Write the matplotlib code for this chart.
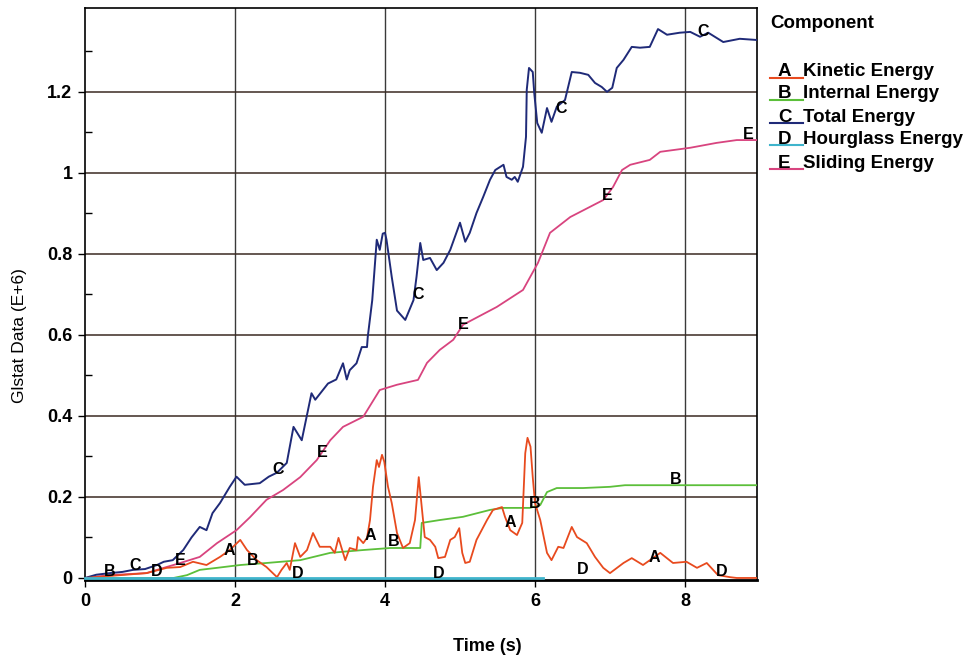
import matplotlib
matplotlib.use("Agg")
import matplotlib.pyplot as plt
from matplotlib.ticker import FixedLocator

plt.rcParams['font.family'] = ['Liberation Sans', 'DejaVu Sans']

# ---- data (time in s, values in E+6) ----
A_t = [0, 0.33, 0.82, 1.09, 1.27, 1.44, 1.62, 1.8, 1.93, 2.07, 2.16, 2.29, 2.42, 2.56, 2.62, 2.69, 2.73, 2.8,
       2.87, 2.96, 3.04, 3.13, 3.27, 3.33, 3.38, 3.47, 3.53, 3.62, 3.64, 3.71, 3.76, 3.8, 3.84, 3.89, 3.92, 3.96,
       3.99, 4.04, 4.09, 4.16, 4.24, 4.33, 4.4, 4.45, 4.49, 4.53, 4.6, 4.67, 4.71, 4.8, 4.87, 4.93, 4.99, 5.03,
       5.07, 5.13, 5.22, 5.36, 5.44, 5.56, 5.6, 5.67, 5.76, 5.83, 5.87, 5.9, 5.94, 5.97, 6.0, 6.07, 6.16, 6.22,
       6.31, 6.38, 6.49, 6.56, 6.69, 6.8, 6.91, 7.0, 7.18, 7.29, 7.44, 7.67, 7.84, 8.02, 8.16, 8.29, 8.44, 8.6,
       8.69, 8.96]
A_v = [0, 0.005, 0.012, 0.025, 0.027, 0.04, 0.032, 0.052, 0.069, 0.094, 0.069, 0.044, 0.027, 0.002, 0.02, 0.037,
       0.02, 0.086, 0.052, 0.069, 0.111, 0.077, 0.077, 0.062, 0.099, 0.044, 0.074, 0.069, 0.101, 0.086, 0.099,
       0.143, 0.225, 0.291, 0.274, 0.304, 0.287, 0.225, 0.185, 0.111, 0.074, 0.086, 0.143, 0.249, 0.175, 0.101,
       0.094, 0.077, 0.049, 0.052, 0.094, 0.101, 0.123, 0.062, 0.037, 0.04, 0.094, 0.143, 0.168, 0.175, 0.151,
       0.118, 0.106, 0.136, 0.308, 0.346, 0.324, 0.249, 0.185, 0.143, 0.062, 0.044, 0.077, 0.074, 0.126, 0.101,
       0.086, 0.052, 0.025, 0.012, 0.037, 0.049, 0.032, 0.062, 0.037, 0.04, 0.025, 0.037, 0.007, 0.002, 0.0, 0.0]

B_t = [0, 1.18, 1.36, 1.53, 1.76, 2.07, 2.42, 2.87, 3.27, 3.71, 4.07, 4.47, 4.49, 4.73, 5.04, 5.4, 5.58, 5.93,
       6.07, 6.16, 6.29, 6.64, 7.0, 7.2, 8.96]
B_v = [0, 0, 0.007, 0.02, 0.025, 0.032, 0.037, 0.044, 0.062, 0.069, 0.074, 0.074, 0.136, 0.143, 0.151, 0.168,
       0.173, 0.173, 0.18, 0.212, 0.222, 0.222, 0.225, 0.229, 0.229]

C_t = [0, 0.15, 0.33, 0.5, 0.64, 0.8, 0.96, 1.05, 1.17, 1.31, 1.42, 1.53, 1.62, 1.7, 1.8, 1.93, 2.02, 2.13, 2.33,
       2.45, 2.56, 2.69, 2.78, 2.89, 3.02, 3.07, 3.24, 3.35, 3.44, 3.49, 3.53, 3.62, 3.69, 3.76, 3.77, 3.83, 3.89,
       3.93, 3.97, 4.0, 4.02, 4.09, 4.16, 4.27, 4.38, 4.42, 4.47, 4.51, 4.6, 4.69, 4.78, 4.87, 5.0, 5.07, 5.13,
       5.22, 5.31, 5.4, 5.47, 5.58, 5.62, 5.69, 5.73, 5.77, 5.84, 5.88, 5.89, 5.92, 5.97, 5.99, 6.03, 6.09, 6.16,
       6.22, 6.29, 6.4, 6.49, 6.6, 6.71, 6.8, 6.89, 6.96, 7.03, 7.09, 7.18, 7.29, 7.4, 7.53, 7.64, 7.76, 7.93,
       8.07, 8.2, 8.31, 8.51, 8.73, 8.96]
C_v = [0, 0.008, 0.012, 0.015, 0.02, 0.022, 0.032, 0.04, 0.044, 0.069, 0.1, 0.126, 0.118, 0.16, 0.185, 0.225,
       0.25, 0.23, 0.234, 0.25, 0.26, 0.284, 0.373, 0.34, 0.456, 0.44, 0.48, 0.49, 0.53, 0.49, 0.513, 0.53, 0.57,
       0.57, 0.595, 0.686, 0.835, 0.81, 0.85, 0.852, 0.835, 0.743, 0.66, 0.637, 0.686, 0.743, 0.827, 0.785, 0.79,
       0.76, 0.778, 0.81, 0.877, 0.83, 0.852, 0.901, 0.941, 0.983, 1.007, 1.02, 0.99, 0.983, 0.99, 0.978, 1.015,
       1.089, 1.205, 1.259, 1.249, 1.197, 1.123, 1.099, 1.16, 1.126, 1.163, 1.18, 1.249, 1.247, 1.242, 1.222,
       1.212, 1.2, 1.21, 1.259, 1.279, 1.311, 1.309, 1.311, 1.355, 1.341, 1.346, 1.348, 1.336, 1.346, 1.323,
       1.331, 1.328]

D_t = [0, 2.0, 4.0, 6.1]
D_v = [0, 0, 0, 0]

E_t = [0, 0.33, 0.82, 1.05, 1.27, 1.53, 1.76, 2.02, 2.2, 2.42, 2.64, 2.87, 3.09, 3.27, 3.44, 3.71, 3.93, 4.16,
       4.44, 4.56, 4.73, 4.91, 5.04, 5.49, 5.84, 6.04, 6.2, 6.47, 6.91, 7.04, 7.16, 7.27, 7.53, 7.67, 8.07, 8.42,
       8.69, 8.96]
E_v = [0, 0.007, 0.012, 0.025, 0.037, 0.052, 0.086, 0.118, 0.15, 0.193, 0.217, 0.249, 0.291, 0.34, 0.373, 0.398,
       0.464, 0.477, 0.489, 0.531, 0.563, 0.588, 0.625, 0.669, 0.711, 0.778, 0.852, 0.891, 0.933, 0.965, 1.007,
       1.02, 1.032, 1.052, 1.062, 1.074, 1.081, 1.081]

letters = ['A', 'B', 'C', 'D', 'E']
names = ['Kinetic Energy', 'Internal Energy', 'Total Energy', 'Hourglass Energy', 'Sliding Energy']
colors = ['#e84a1e', '#5cbf3a', '#1f2a78', '#3fb4cc', '#d8447f']

# curve letter labels (letter, t, value)
lab_letter = ['B', 'C', 'D', 'E', 'A', 'B', 'C', 'E', 'D', 'A', 'B', 'C', 'E', 'D', 'A', 'B', 'C', 'E', 'D',
              'A', 'B', 'C', 'E', 'D']
lab_t = [0.33, 0.67, 0.96, 1.27, 1.92, 2.24, 2.57, 3.16, 2.84, 3.8, 4.11, 4.44, 5.04, 4.72, 5.67, 5.99, 6.35,
         6.96, 6.63, 7.59, 7.88, 8.24, 8.85, 8.49]
lab_v = [0.015, 0.03, 0.015, 0.044, 0.069, 0.044, 0.267, 0.31, 0.01, 0.104, 0.091, 0.70, 0.625, 0.012, 0.138,
         0.185, 1.16, 0.943, 0.02, 0.05, 0.242, 1.35, 1.094, 0.017]

fig = plt.figure(figsize=(9.75, 6.63), dpi=100)
ax = fig.add_axes([85 / 975, 1 - 580 / 663, (757 - 85) / 975, (580 - 8) / 663])

ax.set_xlim(0, 8.96)
ax.set_ylim(-0.005, 1.407)

for x in [2, 4, 6, 8]:
    ax.axvline(x, color='#3a3a3a', lw=1.0, zorder=1)
for y in [0.2, 0.4, 0.6, 0.8, 1.0, 1.2]:
    ax.axhline(y, color='#3b2a22', lw=1.1, zorder=1)

ax.plot(E_t, E_v, color=colors[4], lw=1.3, zorder=3)
ax.plot(B_t, B_v, color=colors[1], lw=1.3, zorder=3)
ax.plot(C_t, C_v, color=colors[2], lw=1.4, zorder=4)
ax.plot(A_t, A_v, color=colors[0], lw=1.3, zorder=5)
ax.plot(D_t, D_v, color=colors[3], lw=2.0, zorder=6, clip_on=False)

for l, t, v in zip(lab_letter, lab_t, lab_v):
    ax.text(t, v, l, ha='center', va='center', fontsize=11.5, fontweight='bold', color='black', zorder=7)

for s in ax.spines.values():
    s.set_color('black')
    s.set_linewidth(1.2)
ax.spines['bottom'].set_linewidth(2.0)

ax.set_xticks([0, 2, 4, 6, 8])
ax.set_xticklabels(['0', '2', '4', '6', '8'])
ax.set_yticks([0, 0.2, 0.4, 0.6, 0.8, 1.0, 1.2])
ax.set_yticklabels(['0', '0.2', '0.4', '0.6', '0.8', '1', '1.2'])
ax.yaxis.set_minor_locator(FixedLocator([0.1, 0.3, 0.5, 0.7, 0.9, 1.1, 1.3]))
ax.tick_params(axis='both', which='major', direction='out', length=5, width=1, labelsize=13, pad=4)
ax.tick_params(axis='y', which='minor', direction='in', length=5, width=1)
for lbl in ax.get_xticklabels() + ax.get_yticklabels():
    lbl.set_fontweight('bold')

ax.set_xlabel('Time (s)', fontsize=13, fontweight='bold')
ax.xaxis.set_label_coords(0.598, -0.102)
ax.set_ylabel('Glstat Data (E+6)', fontsize=12.5)
ax.yaxis.set_label_coords(-0.086, 0.427)

# legend block
fig.text(770 / 975, 1 - 23 / 663, 'Component', fontsize=13.5, fontweight='bold', ha='left', va='center')
rows_y = [72, 94, 117, 139, 163]
for l, n, c, yy in zip(letters, names, colors, rows_y):
    yf = 1 - yy / 663
    fig.text(778 / 975, yf, l, fontsize=13.5, ha='left', va='center', fontweight='bold')
    fig.text(803 / 975, yf, n, fontsize=13.5, ha='left', va='center', fontweight='bold')
    fig.add_artist(plt.Line2D([770 / 975, 803 / 975], [1 - (yy + 6) / 663] * 2, color=c, lw=1.5))

fig.savefig('out.png', dpi=100, facecolor='white')
